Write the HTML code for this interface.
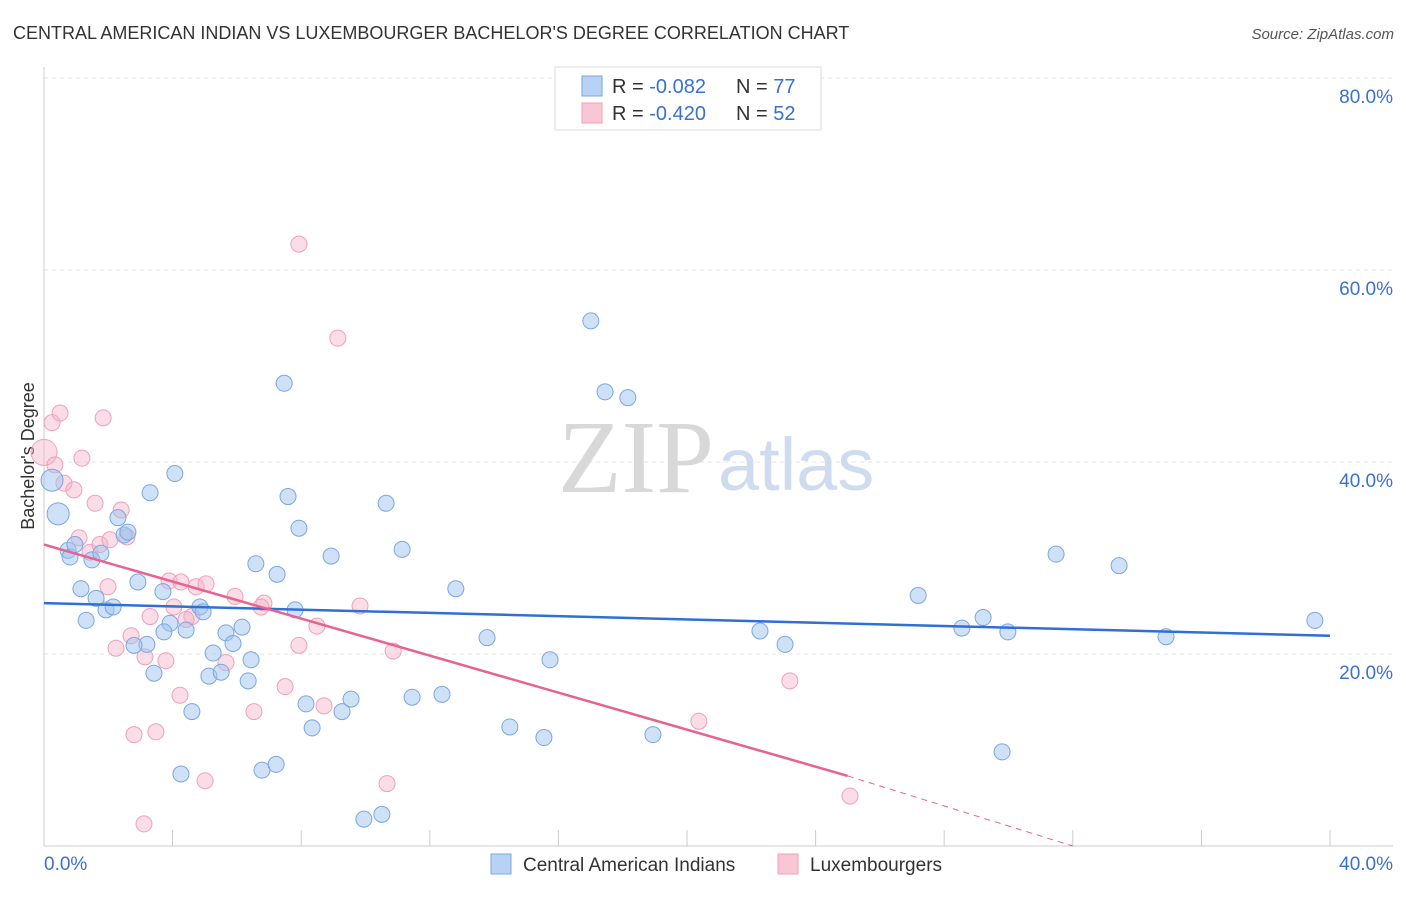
<!DOCTYPE html>
<html><head><meta charset="utf-8"><style>
body{margin:0;background:#fff;font-family:"Liberation Sans",sans-serif;}
svg text{font-family:"Liberation Sans",sans-serif;}
</style></head><body>
<svg id="chart" width="1406" height="892" xmlns="http://www.w3.org/2000/svg">
<text x="13" y="39" font-size="18" fill="#333">CENTRAL AMERICAN INDIAN VS LUXEMBOURGER BACHELOR'S DEGREE CORRELATION CHART</text>
<text x="1394" y="39" font-size="15" fill="#555" text-anchor="end" font-style="italic">Source: ZipAtlas.com</text>
<g id="grid"></g>
<g>
<text x="714" y="492" font-size="104" fill="#d8d8d8" text-anchor="end" style="font-family:'Liberation Serif',serif">ZIP</text>
<text x="718" y="490" font-size="74" fill="#cfdcf0">atlas</text>
</g>
<text transform="translate(34,456) rotate(-90)" font-size="18" fill="#333" text-anchor="middle">Bachelor's Degree</text>
<g id="pts"></g>
<g id="lines"></g>
<g>
<rect x="555" y="67" width="266" height="63" fill="#fff" stroke="#ddd"/>
<rect x="582" y="76" width="20" height="20" fill="#b8d2f5" stroke="#7aa7e0"/>
<rect x="582" y="103" width="20" height="20" fill="#f9c6d6" stroke="#f0a0b8"/>
<text x="612" y="93" font-size="20" fill="#333">R = <tspan fill="#3a70d0">-0.082</tspan></text>
<text x="736" y="93" font-size="20" fill="#333">N = <tspan fill="#3a70d0">77</tspan></text>
<text x="612" y="120" font-size="20" fill="#333">R = <tspan fill="#3a70d0">-0.420</tspan></text>
<text x="736" y="120" font-size="20" fill="#333">N = <tspan fill="#3a70d0">52</tspan></text>
</g>
<g>
<rect x="491" y="854" width="20" height="20" fill="#b8d2f5" stroke="#7aa7e0"/>
<text x="523" y="871" font-size="19" fill="#333">Central American Indians</text>
<rect x="778" y="854" width="20" height="20" fill="#f9c6d6" stroke="#f0a0b8"/>
<text x="810" y="871" font-size="19" fill="#333">Luxembourgers</text>
</g>
</svg>
<script>
const yTicks=[20,40,60,80];
const yTickLabels=["20.0%","40.0%","60.0%","80.0%"];
const xTicks=[4,8,12,16,20,24,28,32,36,40];
const blueX=[0.25,0.44,2.30,3.30,4.07,0.75,0.81,0.96,1.49,1.77,2.49,2.61,1.15,1.62,1.31,1.93,2.15,2.92,3.70,4.85,4.95,3.92,3.73,4.42,3.20,2.80,3.42,5.66,6.16,5.26,5.88,6.44,5.13,5.51,6.35,4.60,4.26,6.78,7.22,6.59,7.25,7.47,7.59,7.93,7.81,8.15,8.34,8.93,9.27,9.55,9.95,10.51,10.64,11.14,11.45,12.38,12.81,13.78,14.49,15.55,15.74,17.01,17.45,18.16,18.94,22.27,23.05,27.19,28.55,29.21,29.98,29.80,31.48,33.44,34.90,39.53];
const blueY=[38.1,34.6,34.2,36.8,38.8,30.8,30.1,31.4,29.8,30.5,32.4,32.7,26.8,25.8,23.5,24.6,24.9,27.5,26.5,24.9,24.4,23.2,22.3,22.5,21.0,20.9,18.0,22.2,22.8,20.1,21.1,19.4,17.7,18.1,17.2,14.0,7.5,7.9,8.5,29.4,28.3,48.2,36.4,33.1,24.6,14.8,12.3,30.2,14.0,15.3,2.8,3.3,35.7,30.9,15.5,15.8,26.8,21.7,12.4,11.3,19.4,54.7,47.3,46.7,11.6,22.4,21.0,26.1,22.7,23.8,22.3,9.8,30.4,29.2,21.8,23.5];
const pinkX=[0,0.25,0.5,0.34,0.62,0.93,1.84,1.18,1.59,2.40,1.09,1.43,1.74,2.05,2.58,1.99,3.30,2.71,2.24,3.14,3.79,3.89,4.26,4.73,5.04,4.04,4.60,4.42,5.94,6.84,6.75,5.66,7.93,9.14,9.83,8.49,7.93,10.86,4.23,6.53,7.50,8.71,2.80,3.48,5.01,3.11,10.67,20.37,23.20,25.07];
const pinkY=[41.0,44.1,45.1,39.7,37.8,37.1,44.6,40.4,35.7,35.0,32.1,30.6,31.4,31.9,32.2,27.0,23.9,21.9,20.6,19.7,19.3,27.6,27.5,27.0,27.3,24.9,23.9,23.6,26.0,25.3,24.9,19.1,62.7,52.9,25.0,22.9,20.9,20.3,15.7,14.0,16.6,14.6,11.6,11.9,6.8,2.3,6.5,13.0,17.2,5.2];
const blueTrend=[[0,25.3],[40,21.9]];
const pinkTrend=[[0,31.4],[25,7.3],[32,0]];
const NS="http://www.w3.org/2000/svg";
const sx=v=>44+v*32.15, sy=v=>846-v*9.6;
function mk(tag,attrs,parent){const e=document.createElementNS(NS,tag);for(const k in attrs)e.setAttribute(k,attrs[k]);parent.appendChild(e);return e;}
const grid=document.getElementById('grid');
yTicks.forEach((t,i)=>{
 const l=mk('line',{x1:44,x2:1393,y1:sy(t),y2:sy(t),stroke:'#e4e4e4','stroke-dasharray':'4,4'},grid);
 
 
 const tx=mk('text',{x:1393,y:sy(t)+25,'font-size':19,fill:'#3a70d0','text-anchor':'end'},grid);
 tx.textContent=yTickLabels[i];
 
 
});
const ax=mk('line',{x1:44,x2:44,y1:67,y2:846,stroke:'#ccc'},grid);


const bx=mk('line',{x1:44,x2:1393,y1:846,y2:846,stroke:'#ccc'},grid);


xTicks.forEach(t=>{const l=mk('line',{x1:sx(t),x2:sx(t),y1:830,y2:846,stroke:'#ccc'},grid);
 
 });
const x0=mk('text',{x:44,y:870,'font-size':19,fill:'#3a70d0'},grid);x0.textContent='0.0%';


const x1=mk('text',{x:1393,y:870,'font-size':19,fill:'#3a70d0','text-anchor':'end'},grid);x1.textContent='40.0%';


const pts=document.getElementById('pts');
pinkX.forEach((x,i)=>{const c=mk('circle',{cx:sx(x),cy:sy(pinkY[i]),r:i===0?13:8,fill:'rgba(245,180,200,0.45)',stroke:'#f0a0b8','stroke-width':1},pts);
 
 });
blueX.forEach((x,i)=>{const c=mk('circle',{cx:sx(x),cy:sy(blueY[i]),r:i<2?11:8,fill:'rgba(160,195,240,0.5)',stroke:'#7aa7e0','stroke-width':1},pts);
 
 });
const lines=document.getElementById('lines');
const bl=mk('line',{x1:sx(blueTrend[0][0]),y1:sy(blueTrend[0][1]),x2:sx(blueTrend[1][0]),y2:sy(blueTrend[1][1]),stroke:'#2f6fd6','stroke-width':2.5},lines);


const pl=mk('line',{x1:sx(pinkTrend[0][0]),y1:sy(pinkTrend[0][1]),x2:sx(pinkTrend[1][0]),y2:sy(pinkTrend[1][1]),stroke:'#e8628f','stroke-width':2.5},lines);


const pd=mk('line',{x1:sx(pinkTrend[1][0]),y1:sy(pinkTrend[1][1]),x2:sx(pinkTrend[2][0]),y2:sy(pinkTrend[2][1]),stroke:'#e8628f','stroke-width':1,'stroke-dasharray':'6,5'},lines);


</script>
</body></html>
